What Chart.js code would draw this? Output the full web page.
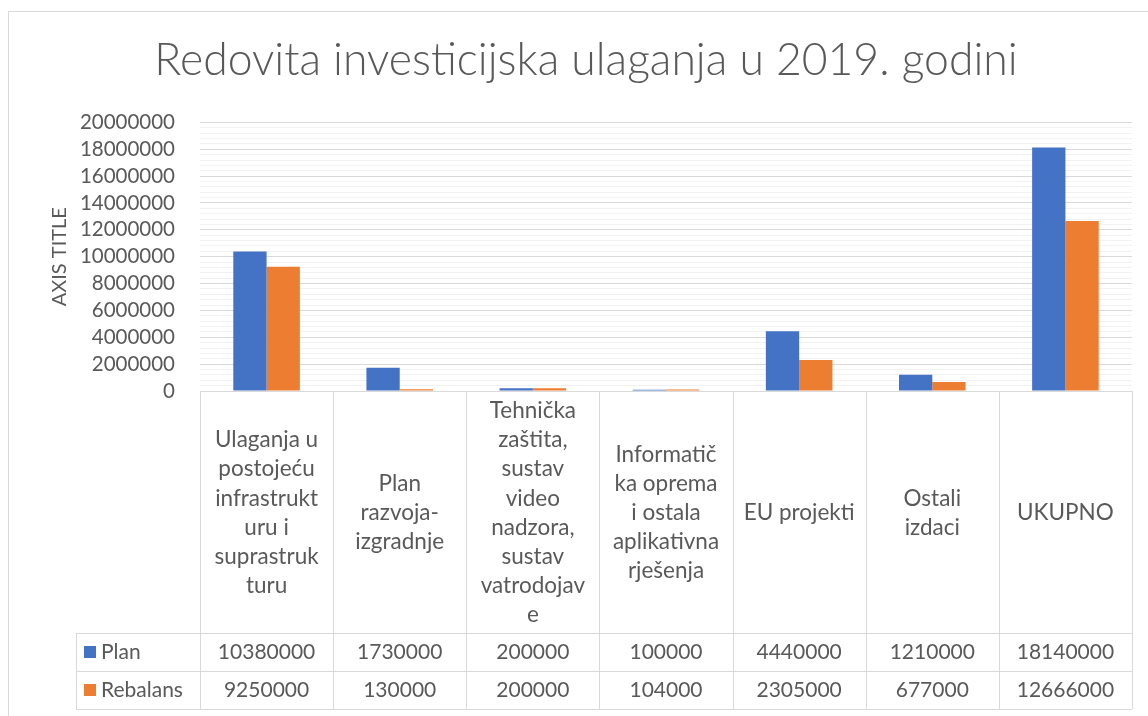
<!DOCTYPE html>
<html>
<head>
<meta charset="utf-8">
<title>Redovita investicijska ulaganja u 2019. godini</title>
<script src="https://cdn.jsdelivr.net/npm/chart.js@4/dist/chart.umd.min.js"></script>
<style>
    html, body { margin: 0; padding: 0; background: #fff; }
    #wrap { position: relative; width: 1148px; height: 716px; }
</style>
</head>
<body>
<div id="wrap"><canvas id="chart" width="1148" height="716"></canvas></div>
<script>
// ================= DATA =================
const categories = [
    ['Ulaganja u', 'postojeću', 'infrastrukt', 'uru i', 'suprastruk', 'turu'],
    ['Plan', 'razvoja-', 'izgradnje'],
    ['Tehnička', 'zaštita,', 'sustav', 'video', 'nadzora,', 'sustav', 'vatrodojav', 'e'],
    ['Informatič', 'ka oprema', 'i ostala', 'aplikativna', 'rješenja'],
    ['EU projekti'],
    ['Ostali', 'izdaci'],
    ['UKUPNO']
];
const seriesNames = ['Plan', 'Rebalans'];
const planValues = [10380000, 1730000, 200000, 100000, 4440000, 1210000, 18140000];
const rebalansValues = [9250000, 130000, 200000, 104000, 2305000, 677000, 12666000];
const yMax = 20000000;
const yMajorStep = 2000000;
const yMinorStep = 400000;

// ================= STYLE =================
const TEXT = '#595959';
const GRID_MAJOR = '#d9d9d9';
const GRID_MINOR = '#f2f2f2';
const FONT = 'Lato, Carlito, "Open Sans", sans-serif';
const COLORS = ['#4472C4', '#ED7D31'];

const LAYOUT = {
    plotLeft: 200,
    plotRight: 1132,
    plotBottom: 391,
    catRowH: 242,
    rowH: 38,
    keyLeft: 76,
    titleLeft: 40   // Excel centres the title on the full frame, which runs past the window
};

// ================= PLUGINS =================
const frame = {
    id: 'frame',
    beforeDraw(chart) {
        const ctx = chart.ctx;
        ctx.save();
        ctx.fillStyle = '#fff';
        ctx.fillRect(0, 0, chart.width, chart.height);
        ctx.strokeStyle = GRID_MAJOR;
        ctx.lineWidth = 1;
        ctx.strokeRect(8.5, 11.5, chart.width + 20, chart.height + 20);
        ctx.restore();
    },
    afterLayout(chart) {
        if (chart.titleBlock) {
            chart.titleBlock.left = LAYOUT.titleLeft;
            chart.titleBlock.right = LAYOUT.plotRight;
        }
    }
};

function hLine(ctx, x1, x2, y) {
    ctx.beginPath();
    ctx.moveTo(x1, Math.round(y) + 0.5);
    ctx.lineTo(x2, Math.round(y) + 0.5);
    ctx.stroke();
}
function vLine(ctx, x, y1, y2) {
    ctx.beginPath();
    ctx.moveTo(Math.round(x) + 0.5, y1);
    ctx.lineTo(Math.round(x) + 0.5, y2);
    ctx.stroke();
}

// data table under the plot, values come from the datasets
const dataTable = {
    id: 'dataTable',
    afterDraw(chart) {
        const { ctx, chartArea } = chart;
        const xs = chart.scales.x;
        const n = chart.data.labels.length;
        const left = chartArea.left, right = chartArea.right;
        const colW = (right - left) / n;
        const top = chartArea.bottom;
        const catBottom = top + LAYOUT.catRowH;
        const rows = chart.data.datasets.length;
        const tableBottom = catBottom + rows * LAYOUT.rowH;

        ctx.save();
        ctx.strokeStyle = GRID_MAJOR;
        ctx.lineWidth = 1;
        hLine(ctx, left, right, top);
        for (let r = 0; r <= rows; r++) {
            hLine(ctx, LAYOUT.keyLeft, right, catBottom + r * LAYOUT.rowH);
        }
        for (let i = 0; i <= n; i++) {
            vLine(ctx, left + i * colW, top, tableBottom);
        }
        vLine(ctx, LAYOUT.keyLeft, catBottom, tableBottom);

        ctx.font = '21px ' + FONT;
        ctx.textBaseline = 'middle';
        chart.data.datasets.forEach((ds, r) => {
            const cy = catBottom + r * LAYOUT.rowH + LAYOUT.rowH / 2;
            ctx.fillStyle = ds.backgroundColor;
            ctx.fillRect(LAYOUT.keyLeft + 8, cy - 6, 12, 12);
            ctx.fillStyle = TEXT;
            ctx.textAlign = 'left';
            ctx.fillText(ds.label, LAYOUT.keyLeft + 25, cy);
            ctx.textAlign = 'center';
            ds.data.forEach((v, i) => {
                ctx.fillText(String(v), xs.getPixelForValue(i), cy);
            });
        });
        ctx.restore();
    }
};

// ================= CHART =================
function init() {
    const ctx = document.getElementById('chart').getContext('2d');
    new Chart(ctx, {
        type: 'bar',
        data: {
            labels: categories,
            datasets: [
                { label: seriesNames[0], data: planValues, backgroundColor: COLORS[0] },
                { label: seriesNames[1], data: rebalansValues, backgroundColor: COLORS[1] }
            ]
        },
        options: {
            responsive: false,
            animation: false,
            devicePixelRatio: 1,
            categoryPercentage: 0.5,
            barPercentage: 1,
            layout: { padding: { left: 8, right: 1148 - LAYOUT.plotRight, top: 2, bottom: 0 } },
            plugins: {
                legend: { display: false },
                tooltip: { enabled: false },
                title: {
                    display: true,
                    text: 'Redovita investicijska ulaganja u 2019. godini',
                    color: TEXT,
                    font: { family: FONT, size: 44.5, weight: '300', lineHeight: 1.2 },
                    padding: { top: 32, bottom: 35 }
                }
            },
            scales: {
                x: {
                    grid: { display: false },
                    border: { display: false },
                    ticks: {
                        color: TEXT,
                        font: { family: FONT, size: 22.5, lineHeight: 1.293 },
                        padding: 12,
                        crossAlign: 'center',
                        autoSkip: false,
                        maxRotation: 0,
                        minRotation: 0
                    },
                    afterFit(scale) {
                        scale.height = 716 - LAYOUT.plotBottom;
                    }
                },
                y: {
                    min: 0,
                    max: yMax,
                    border: { display: false },
                    grid: {
                        drawTicks: false,
                        color: (c) => (c.tick && c.tick.value % yMajorStep === 0) ? GRID_MAJOR : GRID_MINOR
                    },
                    ticks: {
                        stepSize: yMinorStep,
                        autoSkip: false,
                        color: TEXT,
                        padding: 25,
                        font: { family: FONT, size: 20.5 },
                        callback: (v) => (v % yMajorStep === 0) ? String(v) : ''
                    },
                    title: {
                        display: true,
                        text: 'AXIS TITLE',
                        color: TEXT,
                        font: { family: FONT, size: 20, lineHeight: 1.2 },
                        padding: { top: 40, bottom: 0 }
                    },
                    afterFit(scale) {
                        scale.width = LAYOUT.plotLeft - 8;
                    }
                }
            }
        },
        plugins: [frame, dataTable]
    });
}

window.addEventListener('DOMContentLoaded', init);
</script>
</body>
</html>
